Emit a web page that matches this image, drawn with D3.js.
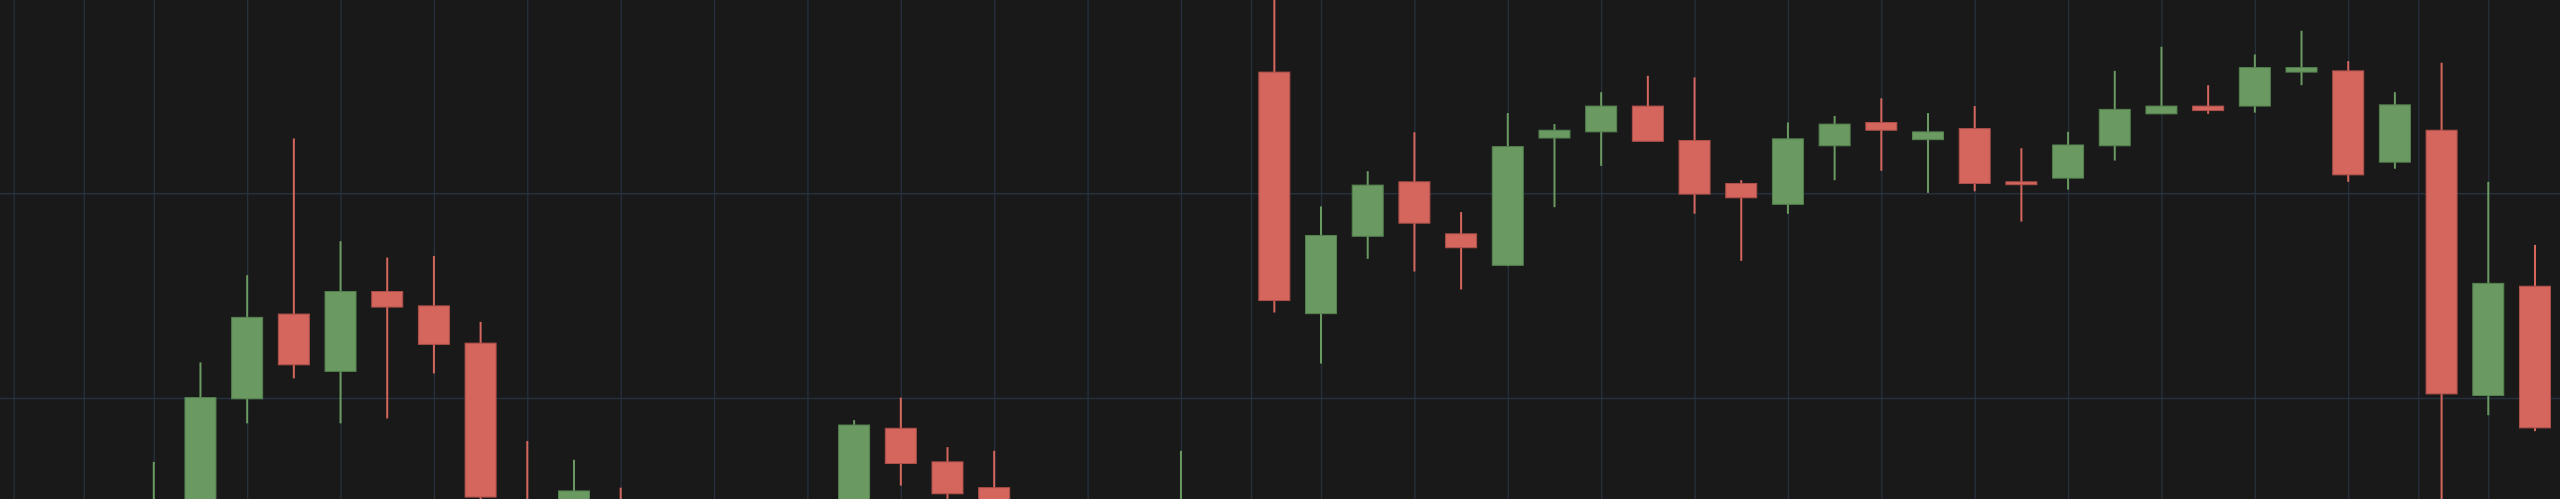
<!DOCTYPE html>
<html>
<head>
<meta charset="utf-8">
<script src="https://cdn.jsdelivr.net/npm/d3@7"></script>
<style>
  html, body { margin: 0; padding: 0; background: #191919; overflow: hidden; }
  svg { display: block; }
</style>
</head>
<body>
<svg id="chart"></svg>
<script>
// ---- data (candle index = category) ----
const candleIndex = d3.range(55);
const opens  = [96.9, 96.7, 96.4, 96.8, 97.4, 99.98, 102.05, 100.65, 102.60, 102.25,
                101.34, 97.40, 96.6, 97.45, 96.9, 96.4, 96.1, 96.3, 96.8, 99.26,
                98.44, 97.81, 96.9, 96.5, 96.8, 97.0, 97.4, 107.96, 102.06, 103.95,
                105.28, 104.01, 103.24, 106.35, 106.50, 107.13, 106.29, 105.24, 104.73, 106.16,
                106.73, 106.31, 106.58, 105.28, 105.37, 106.16, 106.94, 107.13, 107.13, 107.96,
                107.99, 105.76, 106.54, 100.06, 102.73];
const highs  = [97.3, 97.1, 96.9, 98.44, 100.87, 103.00, 106.34, 103.83, 103.43, 103.47,
                101.86, 98.95, 98.49, 97.81, 97.3, 96.9, 96.6, 97.0, 99.46, 100.01,
                98.80, 98.71, 97.2, 97.0, 97.3, 98.71, 97.5, 110.45, 104.68, 105.54,
                106.49, 104.54, 106.96, 106.69, 107.47, 107.87, 107.83, 105.32, 106.73, 106.89,
                107.32, 106.96, 107.13, 106.10, 106.50, 107.99, 108.58, 107.64, 108.39, 108.97,
                108.23, 107.47, 108.19, 105.28, 103.74];
const lows   = [96.5, 96.2, 96.0, 96.5, 97.2, 99.38, 100.48, 99.38, 99.50, 100.60,
                97.46, 96.2, 96.3, 96.6, 96.2, 95.8, 95.6, 96.0, 96.5, 97.86,
                97.2, 96.6, 96.3, 96.0, 96.4, 96.8, 96.9, 102.09, 100.84, 103.40,
                103.09, 102.65, 103.22, 104.66, 105.67, 106.26, 104.50, 103.35, 104.50, 105.32,
                105.55, 105.01, 105.05, 104.31, 105.09, 105.80, 106.94, 106.94, 106.97, 107.64,
                105.28, 105.60, 96.9, 99.58, 99.19];
const closes = [96.7, 96.4, 96.8, 97.4, 100.01, 101.97, 100.81, 102.60, 102.22, 101.31,
                97.58, 96.5, 97.73, 96.9, 96.4, 96.1, 96.3, 96.8, 99.34, 98.40,
                97.66, 96.9, 96.5, 96.8, 97.0, 97.4, 97.2, 102.38, 103.97, 105.20,
                104.27, 103.67, 106.14, 106.54, 107.13, 106.27, 104.98, 104.89, 106.33, 106.69,
                106.54, 106.50, 105.24, 105.21, 106.18, 107.05, 107.13, 107.02, 108.07, 108.07,
                105.45, 107.16, 100.10, 102.80, 99.27];
// grid tick values (in candle-index units) and price grid values
const xTicks = [0, 1.5, 3, 5, 7, 9, 11, 13, 15, 17, 19, 21, 23, 25, 26.5, 28, 30, 32, 34,
                36, 38, 40, 42, 44, 46, 48, 50, 51.5, 53];
const yTicks = [100, 105];

// ---- layout ----
const W = 2560, H = 499;
const COLORS = {
  bg: "#191919", grid: "#26313d",
  upFill: "#6a9a62", upStroke: "#55804f",
  downFill: "#d4665e", downStroke: "#ad504a"
};

const svg = d3.select("#chart").attr("width", W).attr("height", H);
svg.append("rect").attr("width", W).attr("height", H).attr("fill", COLORS.bg);

const x = d3.scaleLinear().domain([-0.2934, 54.536]).range([0, W]);
const y = d3.scaleLinear().domain([97.533, 109.721]).range([H, 0]);
const step = x(1) - x(0);
const bodyW = Math.round(step * 0.665);

svg.append("defs").append("clipPath").attr("id", "clip")
  .append("rect").attr("width", W).attr("height", H);

// gridlines via axes
const gx = svg.append("g")
  .call(d3.axisBottom(x).tickValues(xTicks).tickSize(H).tickFormat(""));
gx.select(".domain").remove();
gx.selectAll(".tick line").attr("stroke", COLORS.grid).attr("stroke-width", 1.3);

const gy = svg.append("g")
  .call(d3.axisRight(y).tickValues(yTicks).tickSize(W).tickFormat(""));
gy.select(".domain").remove();
gy.selectAll(".tick line").attr("stroke", COLORS.grid).attr("stroke-width", 1.5);

const data = candleIndex.map(i => ({
  i, o: opens[i], h: highs[i], l: lows[i], c: closes[i]
}));

const plot = svg.append("g").attr("clip-path", "url(#clip)");
const candle = plot.selectAll("g.candle").data(data).join("g").attr("class", "candle");

candle.append("line")
  .attr("x1", d => x(d.i)).attr("x2", d => x(d.i))
  .attr("y1", d => y(d.h)).attr("y2", d => y(d.l))
  .attr("stroke", d => d.c >= d.o ? COLORS.upFill : COLORS.downFill)
  .attr("stroke-width", 2);

candle.append("rect")
  .attr("x", d => x(d.i) - bodyW / 2)
  .attr("width", bodyW)
  .attr("y", d => y(Math.max(d.o, d.c)))
  .attr("height", d => Math.max(2, Math.abs(y(d.o) - y(d.c))))
  .attr("fill", d => d.c >= d.o ? COLORS.upFill : COLORS.downFill)
  .attr("stroke", d => d.c >= d.o ? COLORS.upStroke : COLORS.downStroke)
  .attr("stroke-width", 1);
</script>
</body>
</html>
